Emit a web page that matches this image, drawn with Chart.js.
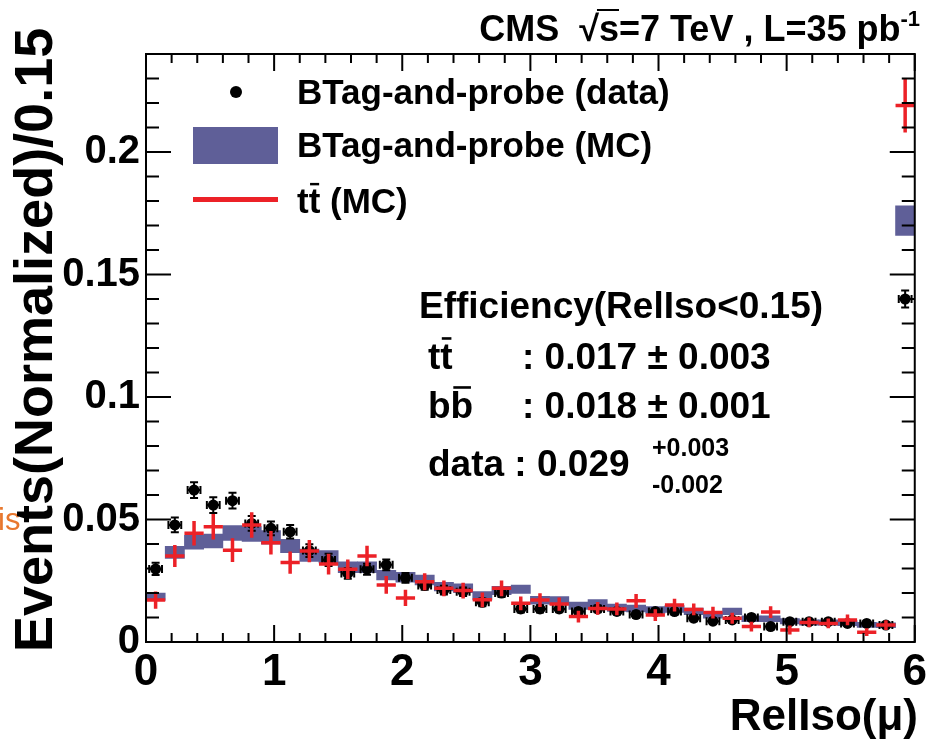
<!DOCTYPE html>
<html lang="en">
<head>
<meta charset="UTF-8">
<title>RelIso(mu) - BTag-and-probe</title>
<script src="https://cdn.jsdelivr.net/npm/chart.js@4.4.0/dist/chart.umd.min.js"></script>
<style>
  body { margin: 0; background: #ffffff; }
  #wrap { width: 931px; height: 741px; position: relative; }
</style>
</head>
<body>
<div id="wrap"><canvas id="c" width="931" height="741"></canvas></div>
<script>
// bin centres (bins of 0.15 from 0 to 6, last bin holds the overflow)
const binCenters = [0.075, 0.225, 0.375, 0.525, 0.675, 0.825, 0.975, 1.125, 1.275, 1.425,
                    1.575, 1.725, 1.875, 2.025, 2.175, 2.325, 2.475, 2.625, 2.775, 2.925,
                    3.075, 3.225, 3.375, 3.525, 3.675, 3.825, 3.975, 4.125, 4.275, 4.425,
                    4.575, 4.725, 4.875, 5.025, 5.175, 5.325, 5.475, 5.625, 5.775, 5.925];

// BTag-and-probe (data)
const dataVals = [0.0298, 0.0478, 0.0620, 0.0559, 0.0577, 0.0484, 0.0464, 0.0450, 0.0373, 0.0335,
                  0.0280, 0.0297, 0.0315, 0.0262, 0.0231, 0.0212, 0.0205, 0.0162, 0.0200, 0.0135,
                  0.0135, 0.0135, 0.0124, 0.0135, 0.0125, 0.0112, 0.0124, 0.0124, 0.0097, 0.0085,
                  0.0090, 0.0100, 0.0063, 0.0083, 0.0083, 0.0083, 0.0076, 0.0076, 0.0069, 0.1400];
const dataErr  = [0.0025, 0.0030, 0.0032, 0.0032, 0.0032, 0.0030, 0.0028, 0.0028, 0.0026, 0.0025,
                  0.0022, 0.0022, 0.0022, 0.0020, 0.0018, 0.0018, 0.0017, 0.0016, 0.0016, 0.0015,
                  0.0015, 0.0014, 0.0014, 0.0014, 0.0013, 0.0013, 0.0013, 0.0012, 0.0012, 0.0012,
                  0.0011, 0.0011, 0.0011, 0.0010, 0.0010, 0.0010, 0.0010, 0.0010, 0.0010, 0.0035];

// BTag-and-probe (MC)
const mcVals = [0.0185, 0.0366, 0.0407, 0.0412, 0.0445, 0.0441, 0.0427, 0.0392, 0.0354, 0.0348,
                0.0305, 0.0305, 0.0273, 0.0264, 0.0253, 0.0226, 0.0219, 0.0189, 0.0210, 0.0215,
                0.0170, 0.0169, 0.0148, 0.0158, 0.0140, 0.0137, 0.0131, 0.0135, 0.0125, 0.0110,
                0.0125, 0.0095, 0.0095, 0.0085, 0.0080, 0.0080, 0.0077, 0.0070, 0.0068, 0.1720];
const mcErr  = [0.0015, 0.0025, 0.0028, 0.0028, 0.0030, 0.0030, 0.0028, 0.0027, 0.0025, 0.0025,
                0.0022, 0.0022, 0.0020, 0.0020, 0.0020, 0.0018, 0.0018, 0.0017, 0.0017, 0.0017,
                0.0016, 0.0016, 0.0015, 0.0015, 0.0015, 0.0014, 0.0014, 0.0014, 0.0013, 0.0013,
                0.0013, 0.0012, 0.0012, 0.0011, 0.0011, 0.0011, 0.0010, 0.0010, 0.0010, 0.0060];

// ttbar (MC)
const ttVals = [0.0171, 0.0351, 0.0444, 0.0470, 0.0375, 0.0478, 0.0405, 0.0324, 0.0371, 0.0318,
                0.0297, 0.0351, 0.0233, 0.0180, 0.0246, 0.0219, 0.0210, 0.0172, 0.0219, 0.0158,
                0.0171, 0.0155, 0.0104, 0.0137, 0.0135, 0.0168, 0.0110, 0.0151, 0.0133, 0.0120,
                0.0097, 0.0063, 0.0122, 0.0049, 0.0080, 0.0076, 0.0090, 0.0040, 0.0069, 0.2190];
const ttErr  = [0.0035, 0.0045, 0.0050, 0.0052, 0.0048, 0.0052, 0.0048, 0.0045, 0.0045, 0.0042,
                0.0040, 0.0042, 0.0036, 0.0033, 0.0035, 0.0032, 0.0032, 0.0030, 0.0032, 0.0028,
                0.0028, 0.0027, 0.0024, 0.0026, 0.0026, 0.0028, 0.0024, 0.0026, 0.0024, 0.0024,
                0.0022, 0.0020, 0.0024, 0.0018, 0.0020, 0.0020, 0.0022, 0.0016, 0.0020, 0.0110];

const xTickLabels = ['0', '1', '2', '3', '4', '5', '6'];
const yTickLabels = ['0', '0.05', '0.1', '0.15', '0.2'];

const binHalf = 0.075;   // half bin width
const dataXErr = 0.05;   // horizontal bar on the data markers

const FONT = "'Liberation Sans', Arial, sans-serif";
const RED = '#ec2127';
const BLUE = '#5f5f98';

// draws text where one character carries an overline (tt-bar, bb-bar)
function barText(ctx, a, b, x, y, size) {
  ctx.fillText(a, x, y);
  const wa = ctx.measureText(a).width;
  ctx.fillText(b, x + wa, y);
  const wb = ctx.measureText(b).width;
  ctx.fillRect(x + wa + wb * 0.12, y - size * 0.86, wb * 0.78, size * 0.07);
  return wa + wb;
}

const hepPlugin = {
  id: 'hep',
  afterDatasetsDraw(chart) {
    const ctx = chart.ctx, xs = chart.scales.x, ys = chart.scales.y;
    ctx.save();
    // data error bars
    ctx.strokeStyle = '#000';
    ctx.lineWidth = 2;
    binCenters.forEach((c, i) => {
      const px = xs.getPixelForValue(c);
      const py = ys.getPixelForValue(dataVals[i]);
      const t = ys.getPixelForValue(dataVals[i] + dataErr[i]);
      const b = ys.getPixelForValue(dataVals[i] - dataErr[i]);
      const l = xs.getPixelForValue(c - dataXErr);
      const r = xs.getPixelForValue(c + dataXErr);
      ctx.beginPath();
      ctx.moveTo(px, t); ctx.lineTo(px, b);
      ctx.moveTo(px - 4, t); ctx.lineTo(px + 4, t);
      ctx.moveTo(px - 4, b); ctx.lineTo(px + 4, b);
      ctx.moveTo(l, py); ctx.lineTo(r, py);
      ctx.moveTo(l, py - 4); ctx.lineTo(l, py + 4);
      ctx.moveTo(r, py - 4); ctx.lineTo(r, py + 4);
      ctx.stroke();
    });
    // ttbar crosses
    ctx.strokeStyle = RED;
    ctx.lineWidth = 3.5;
    binCenters.forEach((c, i) => {
      const px = xs.getPixelForValue(c);
      const py = ys.getPixelForValue(ttVals[i]);
      ctx.beginPath();
      ctx.moveTo(xs.getPixelForValue(c - binHalf), py);
      ctx.lineTo(xs.getPixelForValue(c + binHalf), py);
      ctx.moveTo(px, ys.getPixelForValue(ttVals[i] + ttErr[i]));
      ctx.lineTo(px, ys.getPixelForValue(ttVals[i] - ttErr[i]));
      ctx.stroke();
    });
    ctx.restore();
  },
  afterDraw(chart) {
    const ctx = chart.ctx, xs = chart.scales.x, ys = chart.scales.y;
    const a = chart.chartArea;
    ctx.save();
    // frame and inward ticks on all sides
    ctx.strokeStyle = '#000';
    ctx.lineWidth = 2;
    ctx.strokeRect(a.left, a.top, a.right - a.left, a.bottom - a.top);
    ctx.beginPath();
    for (let k = 0; k <= 30; k++) {
      const px = xs.getPixelForValue(k * 0.2);
      const len = k % 5 === 0 ? 17 : 9;
      ctx.moveTo(px, a.bottom); ctx.lineTo(px, a.bottom - len);
      ctx.moveTo(px, a.top); ctx.lineTo(px, a.top + len);
    }
    for (let k = 0; k <= 24; k++) {
      const py = ys.getPixelForValue(k * 0.01);
      const len = k % 5 === 0 ? 25 : 13;
      ctx.moveTo(a.left, py); ctx.lineTo(a.left + len, py);
      ctx.moveTo(a.right, py); ctx.lineTo(a.right - len, py);
    }
    ctx.stroke();

    ctx.fillStyle = '#000';
    ctx.textBaseline = 'alphabetic';

    // header
    ctx.font = 'bold 22px ' + FONT;
    ctx.textAlign = 'right';
    ctx.fillText('-1', 920, 26);
    const supW = ctx.measureText('-1').width;
    ctx.font = 'bold 36px ' + FONT;
    const head = 'CMS  \u221As=7 TeV , L=35 pb';
    const hw = ctx.measureText(head).width;
    const hx = 920 - supW - hw;
    ctx.textAlign = 'left';
    ctx.fillText(head, hx, 41);
    const wPre = ctx.measureText('CMS  \u221A').width;
    const wS = ctx.measureText('s').width;
    ctx.fillRect(hx + wPre - 2, 41 - 32, wS + 2, 2);

    // legend
    ctx.beginPath();
    ctx.arc(236, 92, 6, 0, Math.PI * 2);
    ctx.fill();
    ctx.fillStyle = BLUE;
    ctx.fillRect(193, 127, 85, 37);
    ctx.fillStyle = RED;
    ctx.fillRect(193, 197, 85, 5);
    ctx.fillStyle = '#000';
    ctx.font = 'bold 35px ' + FONT;
    ctx.fillText('BTag-and-probe (data)', 297, 104);
    ctx.fillText('BTag-and-probe (MC)', 297, 157);
    const w1 = barText(ctx, 't', 't', 297, 213, 35);
    ctx.fillText(' (MC)', 297 + w1, 213);

    // efficiency box
    ctx.font = 'bold 37px ' + FONT;
    ctx.fillText('Efficiency(RelIso<0.15)', 419, 318);
    barText(ctx, 't', 't', 428, 369, 37);
    ctx.fillText(': 0.017 \u00B1 0.003', 522, 369);
    barText(ctx, 'b', 'b', 428, 418, 37);
    ctx.fillText(': 0.018 \u00B1 0.001', 522, 418);
    ctx.fillText('data : 0.029', 428, 476);
    ctx.font = 'bold 25px ' + FONT;
    ctx.fillText('+0.003', 652, 456);
    ctx.fillText('-0.002', 652, 493);

    // stray orange text from the slide
    ctx.font = '31px ' + FONT;
    ctx.fillStyle = '#e8772e';
    ctx.fillText('is', -2, 530);

    // axis titles
    ctx.fillStyle = '#000';
    ctx.font = 'bold 44px ' + FONT;
    ctx.textAlign = 'right';
    ctx.fillText('RelIso(\u03BC)', 918, 730);
    ctx.translate(52, 652);
    ctx.rotate(-Math.PI / 2);
    ctx.textAlign = 'left';
    ctx.font = 'bold 54px ' + FONT;
    ctx.fillText('Events(Normalized)/0.15', 0, 0);
    ctx.restore();
  }
};

new Chart(document.getElementById('c'), {
  type: 'bar',
  data: {
    datasets: [
      {
        type: 'scatter',
        label: 'BTag-and-probe (data)',
        data: binCenters.map((x, i) => ({ x: x, y: dataVals[i] })),
        pointRadius: 5.5,
        pointBackgroundColor: '#000',
        pointBorderWidth: 0,
        order: 2
      },
      {
        type: 'scatter',
        label: 'tt (MC)',
        data: binCenters.map((x, i) => ({ x: x, y: ttVals[i] })),
        pointRadius: 0,
        order: 1
      },
      {
        type: 'bar',
        label: 'BTag-and-probe (MC)',
        data: binCenters.map((x, i) => ({ x: x, y: [mcVals[i] - mcErr[i], mcVals[i] + mcErr[i]] })),
        backgroundColor: BLUE,
        borderWidth: 0,
        barPercentage: 1,
        categoryPercentage: 1,
        order: 3
      }
    ]
  },
  options: {
    responsive: false,
    animation: false,
    devicePixelRatio: 1,
    layout: { padding: { top: 54, right: 15, left: 0, bottom: 0 } },
    plugins: { legend: { display: false }, tooltip: { enabled: false } },
    scales: {
      x: {
        type: 'linear',
        min: 0, max: 6,
        offset: false,
        grid: { display: false, drawTicks: false },
        border: { display: false },
        ticks: {
          stepSize: 1,
          padding: 4,
          color: '#000',
          font: { family: FONT, size: 44, weight: 'bold' },
          maxRotation: 0,
          callback: (v, i) => xTickLabels[i] ?? ''
        },
        afterFit: (s) => { s.height = 99; }
      },
      y: {
        type: 'linear',
        min: 0, max: 0.24,
        grid: { display: false, drawTicks: false },
        border: { display: false },
        ticks: {
          stepSize: 0.05,
          padding: 6,
          color: '#000',
          font: { family: FONT, size: 40, weight: 'bold' },
          callback: (v, i) => yTickLabels[i] ?? ''
        },
        afterFit: (s) => { s.width = 146; }
      }
    }
  },
  plugins: [hepPlugin]
});
</script>
</body>
</html>
